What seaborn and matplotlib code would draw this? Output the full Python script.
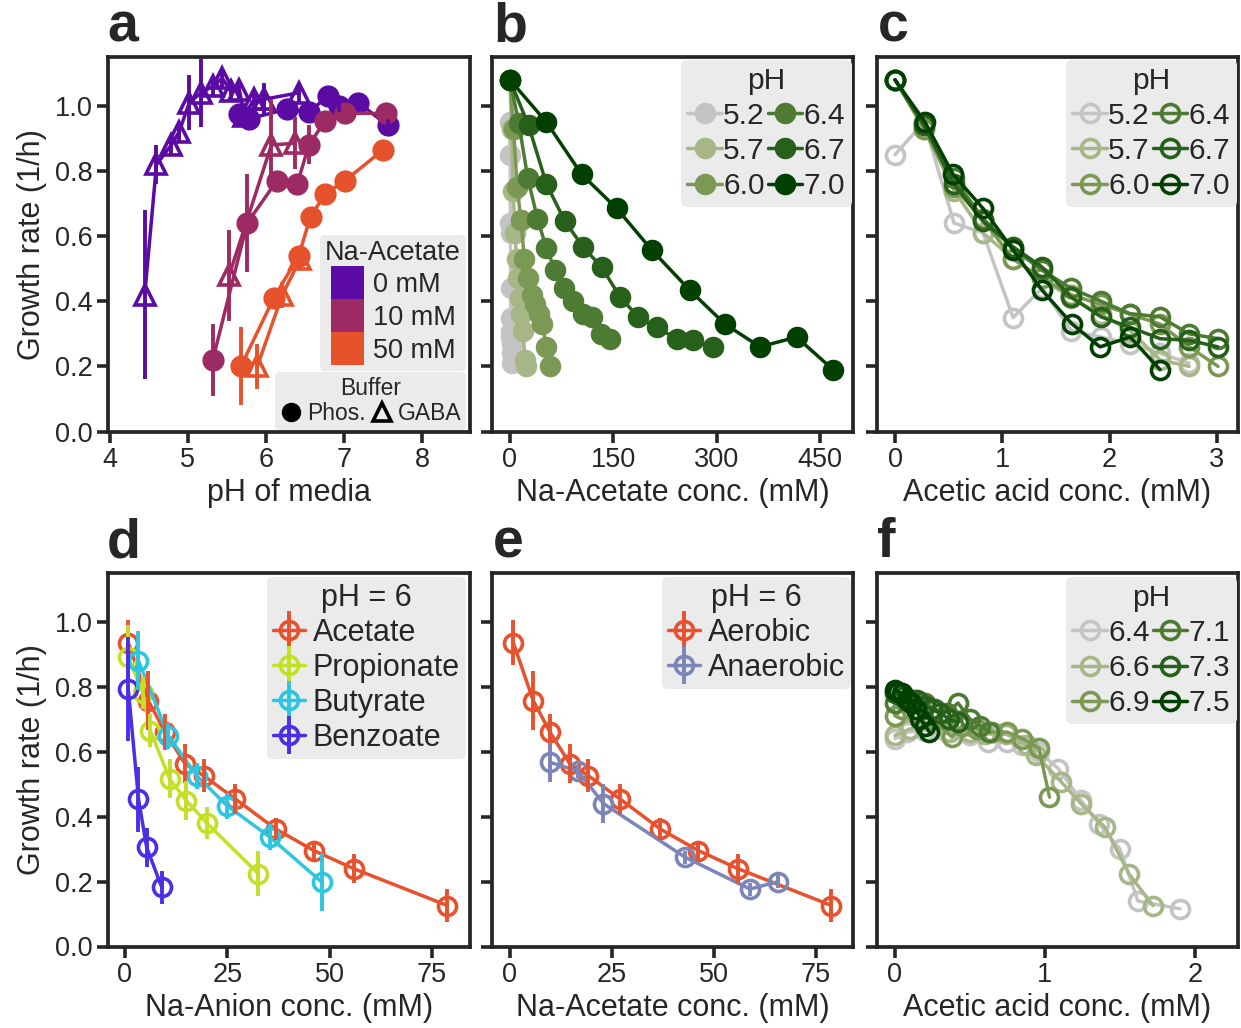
import numpy as np
import pandas as pd
import matplotlib
matplotlib.use('Agg')
import matplotlib.pyplot as plt
import seaborn as sns
from matplotlib.lines import Line2D
from matplotlib.patches import Patch
from matplotlib.legend_handler import HandlerTuple

# ---------------- DATA ----------------
# Panel a: growth rate vs pH, Na-acetate 0/10/50 mM, phosphate (circles) / GABA (triangles)
a_labels = ['0 mM', '10 mM', '50 mM']
a_colors = ['#5b0ba3', '#9d2b63', '#e6522c']
a0_phos_ph = [5.66, 5.78, 6.27, 6.55, 6.79, 6.93, 7.18, 7.56]
a0_phos_rate = [0.975, 0.96, 0.99, 0.98, 1.03, 1.00, 1.01, 0.94]
a0_phos_err = [0.02, 0.02, 0.02, 0.02, 0.02, 0.02, 0.02, 0.02]
a0_gaba_ph = [4.45, 4.60, 4.79, 4.89, 5.02, 5.17, 5.32, 5.44, 5.55, 5.66, 5.72, 5.85, 5.97, 6.42]
a0_gaba_rate = [0.42, 0.82, 0.88, 0.92, 1.01, 1.04, 1.06, 1.085, 1.045, 1.05, 0.97, 1.02, 1.02, 1.04]
a0_gaba_err = [0.26, 0.06, 0.03, 0.03, 0.085, 0.105, 0.03, 0.03, 0.03, 0.03, 0.03, 0.03, 0.05, 0.03]
a10_phos_ph = [5.32, 5.76, 6.14, 6.40, 6.55, 6.76, 7.01, 7.54]
a10_phos_rate = [0.22, 0.64, 0.77, 0.76, 0.88, 0.955, 0.977, 0.977]
a10_phos_err = [0.11, 0.15, 0.02, 0.03, 0.06, 0.02, 0.02, 0.02]
a10_gaba_ph = [5.53, 6.07, 6.37]
a10_gaba_rate = [0.48, 0.88, 0.885]
a10_gaba_err = [0.14, 0.14, 0.08]
a50_phos_ph = [5.68, 6.10, 6.42, 6.57, 6.76, 7.01, 7.50]
a50_phos_rate = [0.20, 0.41, 0.54, 0.66, 0.73, 0.77, 0.865]
a50_phos_err = [0.12, 0.03, 0.03, 0.02, 0.02, 0.02, 0.02]
a50_gaba_ph = [5.89, 6.21, 6.44]
a50_gaba_rate = [0.20, 0.42, 0.53]
a50_gaba_err = [0.07, 0.04, 0.03]

# Panels b & c: by pH
bc_ph = ['5.2', '5.7', '6.0', '6.4', '6.7', '7.0']
bc_colors = ['#c4c4c4', '#a6b687', '#7b9855', '#4e7b33', '#27601a', '#024002']
b_x_52 = [0, 0.3, 0.6, 0.9, 1.2, 1.5, 1.8, 2.1, 2.4, 2.7, 3.0]
b_x_57 = [0, 2.4, 4.8, 7.2, 9.6, 12, 14.4, 16.8, 19.2, 21.6, 24]
b_x_60 = [0, 5.3, 10.5, 16, 21, 26, 32, 37, 42, 47, 53, 58]
b_x_64 = [0, 13, 26, 40, 53, 66, 79, 92, 106, 119, 132, 145]
b_x_67 = [0, 27, 53, 80, 106, 133, 160, 186, 213, 242, 266, 295]
b_x_70 = [0, 53, 104, 155, 206, 261, 312, 363, 416, 469]
c_x_52 = [0, 0.27, 0.55, 0.82, 1.10, 1.37, 1.64, 1.92, 2.19, 2.47, 2.74]
c_x_57 = [0, 0.27, 0.55, 0.82, 1.10, 1.37, 1.64, 1.92, 2.19, 2.47, 2.74]
c_x_60 = [0, 0.27, 0.55, 0.82, 1.10, 1.37, 1.64, 1.92, 2.19, 2.47, 2.74, 3.01]
c_x_64 = [0, 0.27, 0.55, 0.82, 1.10, 1.37, 1.64, 1.92, 2.19, 2.47, 2.74, 3.01]
c_x_67 = [0, 0.27, 0.55, 0.82, 1.10, 1.37, 1.64, 1.92, 2.19, 2.47, 2.74, 3.01]
c_x_70 = [0, 0.28, 0.54, 0.82, 1.10, 1.37, 1.65, 1.91, 2.19, 2.47]
rate_52 = [0.85, 0.95, 0.64, 0.61, 0.35, 0.44, 0.31, 0.29, 0.27, 0.24, 0.21]
rate_57 = [1.08, 0.93, 0.74, 0.61, 0.53, 0.47, 0.41, 0.36, 0.31, 0.22, 0.20]
rate_60 = [1.08, 0.93, 0.75, 0.65, 0.53, 0.47, 0.42, 0.39, 0.36, 0.33, 0.26, 0.20]
rate_64 = [1.08, 0.946, 0.777, 0.654, 0.562, 0.495, 0.44, 0.40, 0.362, 0.352, 0.30, 0.285]
rate_67 = [1.08, 0.94, 0.76, 0.645, 0.567, 0.505, 0.413, 0.352, 0.32, 0.285, 0.28, 0.26]
rate_70 = [1.08, 0.95, 0.79, 0.685, 0.557, 0.434, 0.33, 0.26, 0.29, 0.19]

# Panel d: different anions at pH 6
d_labels = ['Acetate', 'Propionate', 'Butyrate', 'Benzoate']
d_colors = ['#e8512d', '#c3df27', '#2dc5e0', '#4b2ee5']
acet_x = [0.8, 5.7, 9.8, 14.7, 19.2, 27, 36.8, 46.2, 56, 78.8]
acet_y = [0.936, 0.757, 0.66, 0.562, 0.526, 0.454, 0.362, 0.295, 0.239, 0.126]
acet_e = [0.07, 0.09, 0.055, 0.06, 0.05, 0.045, 0.035, 0.03, 0.045, 0.05]
prop_x = [0.8, 4.4, 6.2, 10.9, 15.0, 20.0, 32.6]
prop_y = [0.89, 0.78, 0.665, 0.516, 0.449, 0.38, 0.224]
prop_e = [0.1, 0.05, 0.05, 0.06, 0.06, 0.05, 0.07]
buty_x = [3.3, 10.6, 17.5, 24.9, 35.5, 48.1]
buty_y = [0.88, 0.649, 0.526, 0.434, 0.336, 0.198]
buty_e = [0.09, 0.04, 0.04, 0.04, 0.04, 0.09]
benz_x = [0.8, 3.3, 5.3, 9.0]
benz_y = [0.793, 0.454, 0.305, 0.182]
benz_e = [0.16, 0.10, 0.06, 0.05]

# Panel e: aerobic vs anaerobic
e_labels = ['Aerobic', 'Anaerobic']
e_colors = ['#e8512d', '#7b85b8']
anae_x = [9.8, 16.7, 22.9, 42.9, 58.8, 65.8]
anae_y = [0.567, 0.54, 0.44, 0.275, 0.177, 0.20]
anae_e = [0.06, 0.02, 0.06, 0.02, 0.02, 0.02]

# Panel f: acetic acid at higher pH
f_ph = ['6.4', '6.6', '6.9', '7.1', '7.3', '7.5']
f_colors = ['#c4c4c4', '#a6b687', '#7b9855', '#4e7b33', '#27601a', '#024002']
f_x_64 = [0, 0.08, 0.2, 0.35, 0.5, 0.62, 0.75, 0.85, 0.96, 1.09, 1.24, 1.36, 1.5, 1.62, 1.9]
f_y_64 = [0.64, 0.66, 0.665, 0.66, 0.65, 0.63, 0.63, 0.62, 0.60, 0.547, 0.45, 0.378, 0.30, 0.14, 0.116]
f_x_66 = [0, 0.1, 0.2, 0.37, 0.5, 0.6, 0.74, 0.88, 0.94, 1.11, 1.24, 1.4, 1.56, 1.72]
f_y_66 = [0.65, 0.67, 0.68, 0.66, 0.66, 0.655, 0.654, 0.62, 0.59, 0.506, 0.44, 0.367, 0.224, 0.126]
f_x_69 = [0, 0.05, 0.15, 0.25, 0.38, 0.45, 0.55, 0.65, 0.75, 0.85, 0.96, 1.03]
f_y_69 = [0.71, 0.73, 0.72, 0.70, 0.645, 0.68, 0.67, 0.66, 0.66, 0.64, 0.61, 0.46]
f_x_71 = [0, 0.06, 0.13, 0.2, 0.27, 0.35, 0.42, 0.5, 0.57, 0.63]
f_y_71 = [0.75, 0.77, 0.76, 0.75, 0.73, 0.72, 0.75, 0.70, 0.68, 0.66]
f_x_73 = [0, 0.05, 0.1, 0.15, 0.2, 0.25, 0.3, 0.36, 0.42]
f_y_73 = [0.78, 0.77, 0.76, 0.76, 0.74, 0.73, 0.72, 0.70, 0.69]
f_x_75 = [0, 0.02, 0.05, 0.08, 0.11, 0.14, 0.17, 0.2, 0.23]
f_y_75 = [0.79, 0.785, 0.78, 0.76, 0.75, 0.73, 0.70, 0.68, 0.66]

# ---------------- STYLE ----------------
sns.set_theme(style='ticks')
plt.rcParams['font.family'] = ['Liberation Sans', 'DejaVu Sans']
TXT = '#262626'
plt.rcParams['text.color'] = TXT
plt.rcParams['axes.labelcolor'] = TXT

W, H = 1241, 1028
fig = plt.figure(figsize=(W / 100, H / 100), dpi=100)

LABFS = 22
TICKFS = 19.5
LEGFS = 21.5


def add_ax(l, t, r, b):
    return fig.add_axes([l / W, 1 - b / H, (r - l) / W, (b - t) / H])


def style_ax(ax, show_ylab):
    for sp in ax.spines.values():
        sp.set_linewidth(2.7)
        sp.set_color(TXT)
    ax.tick_params(length=8, width=2.6, color=TXT, labelsize=TICKFS, pad=3, labelcolor=TXT)
    ax.set_ylim(0, 1.15)
    ax.set_yticks([0, 0.2, 0.4, 0.6, 0.8, 1.0])
    if show_ylab:
        ax.set_yticklabels(['0.0', '0.2', '0.4', '0.6', '0.8', '1.0'])
        ax.set_ylabel('Growth rate (1/h)', fontsize=LABFS, labelpad=6)
    else:
        ax.set_yticklabels([])
        ax.set_ylabel('')


def style_leg(leg):
    fr = leg.get_frame()
    fr.set_facecolor('#EBEBEB')
    fr.set_edgecolor('none')
    fr.set_alpha(1)


LW = 2.5


def line_filled(ax, x, y, c, ms=15.5, marker='o'):
    sns.lineplot(x=x, y=y, ax=ax, color=c, marker=marker, markersize=ms, linewidth=LW,
                 sort=False, estimator=None, errorbar=None, legend=False,
                 markeredgecolor=c, markeredgewidth=0, markerfacecolor=c)


def line_open(ax, x, y, c, ms=13, marker='o'):
    sns.lineplot(x=x, y=y, ax=ax, color=c, marker=marker, markersize=ms, linewidth=LW,
                 sort=False, estimator=None, errorbar=None, legend=False,
                 markeredgecolor=c, markeredgewidth=2.6, markerfacecolor='none')


def ebar(ax, x, y, e, c):
    ax.errorbar(x, y, yerr=e, fmt='none', ecolor=c, elinewidth=2.8, capsize=0, zorder=3)


axA = add_ax(108, 57, 470, 431.5)
axB = add_ax(492, 57, 853, 431.5)
axC = add_ax(877, 57, 1238, 431.5)
axD = add_ax(108, 573, 470, 946.5)
axE = add_ax(492, 573, 853, 946.5)
axF = add_ax(877, 573, 1238, 946.5)

# ---- Panel a ----
a_sets = [
    (a0_phos_ph, a0_phos_rate, a0_phos_err, a0_gaba_ph, a0_gaba_rate, a0_gaba_err),
    (a10_phos_ph, a10_phos_rate, a10_phos_err, a10_gaba_ph, a10_gaba_rate, a10_gaba_err),
    (a50_phos_ph, a50_phos_rate, a50_phos_err, a50_gaba_ph, a50_gaba_rate, a50_gaba_err),
]
for (px, py, pe, gx, gy, ge), c in zip(a_sets, a_colors):
    ebar(axA, px, py, pe, c)
    ebar(axA, gx, gy, ge, c)
    line_open(axA, gx, gy, c, ms=15, marker='^')
    line_filled(axA, px, py, c, ms=16)
axA.set_xlim(3.98, 8.61)
axA.set_xticks([4, 5, 6, 7, 8])
axA.set_xlabel('pH of media', fontsize=LABFS)
style_ax(axA, True)

leg1 = axA.legend([Patch(facecolor=c, edgecolor='none') for c in a_colors], a_labels,
                  title='Na-Acetate', loc='lower right', bbox_to_anchor=(0.99, 0.162),
                  borderaxespad=0, fontsize=19.5, title_fontsize=19.5, handlelength=1.25,
                  handleheight=1.5, labelspacing=0, handletextpad=0.3, borderpad=0.2,
                  fancybox=True)
style_leg(leg1)
axA.add_artist(leg1)
buf_h = [Line2D([0], [0], marker='o', color='black', linestyle='none', markersize=13),
         Line2D([0], [0], marker='^', color='black', markerfacecolor='none',
                markeredgewidth=2.6, linestyle='none', markersize=13)]
leg2 = axA.legend(buf_h, ['Phos.', 'GABA'], title='Buffer', ncol=2, loc='lower right',
                  bbox_to_anchor=(0.99, 0.005), borderaxespad=0, fontsize=16.5,
                  title_fontsize=16.5, handlelength=1.0, handletextpad=0.2,
                  columnspacing=0.2, borderpad=0.2, labelspacing=0.1, fancybox=True)
style_leg(leg2)

# ---- Panel b and c ----
b_xs = [b_x_52, b_x_57, b_x_60, b_x_64, b_x_67, b_x_70]
c_xs = [c_x_52, c_x_57, c_x_60, c_x_64, c_x_67, c_x_70]
rates = [rate_52, rate_57, rate_60, rate_64, rate_67, rate_70]
for bx, cx, r, c in zip(b_xs, c_xs, rates, bc_colors):
    line_filled(axB, bx, r, c, ms=15.5)
    line_open(axC, cx, r, c, ms=13)

axB.set_xlim(-26, 498)
axB.set_xticks([0, 150, 300, 450])
axB.set_xlabel('Na-Acetate conc. (mM)', fontsize=LABFS)
style_ax(axB, False)
axC.set_xlim(-0.168, 3.196)
axC.set_xticks([0, 1, 2, 3])
axC.set_xlabel('Acetic acid conc. (mM)', fontsize=LABFS)
style_ax(axC, False)

leg_kw = dict(ncol=2, loc='upper right', borderaxespad=0, fontsize=LEGFS,
              title_fontsize=LEGFS, handlelength=1.15, handletextpad=0.05,
              columnspacing=0.1, labelspacing=0.24, borderpad=0.22, fancybox=True)
hb = [Line2D([0], [0], color=c, marker='o', markersize=15.5, lw=LW, markeredgewidth=0)
      for c in bc_colors]
legb = axB.legend(hb, bc_ph, title='pH', bbox_to_anchor=(0.997, 0.992), **leg_kw)
style_leg(legb)
hc = [Line2D([0], [0], color=c, marker='o', markersize=13, lw=LW, markeredgewidth=2.6,
             markerfacecolor='none') for c in bc_colors]
legc = axC.legend(hc, bc_ph, title='pH', bbox_to_anchor=(0.997, 0.992), **leg_kw)
style_leg(legc)

# ---- Panel d ----
d_sets = [(acet_x, acet_y, acet_e), (prop_x, prop_y, prop_e),
          (buty_x, buty_y, buty_e), (benz_x, benz_y, benz_e)]
for (x, y, e), c in zip(d_sets, d_colors):
    line_open(axD, x, y, c, ms=13)
    ebar(axD, x, y, e, c)
axD.set_xlim(-4.15, 84.3)
axD.set_xticks([0, 25, 50, 75])
axD.set_xlabel('Na-Anion conc. (mM)', fontsize=LABFS)
style_ax(axD, True)


def eb_handle(c):
    return (Line2D([0], [0], color=c, marker='o', markersize=13, lw=LW,
                   markeredgewidth=2.6, markerfacecolor='none'),
            Line2D([0], [0], color=c, marker='|', markersize=27, markeredgewidth=2.8,
                   linestyle='none'))


eb_kw = dict(loc='upper right', borderaxespad=0, fontsize=22, title_fontsize=22,
             handlelength=1.05, handletextpad=0.25, labelspacing=0.16, borderpad=0.2,
             fancybox=True, handler_map={tuple: HandlerTuple(ndivide=1, pad=0)})
legd = axD.legend([eb_handle(c) for c in d_colors], d_labels, title='pH = 6',
                  bbox_to_anchor=(0.989, 0.989), **eb_kw)
style_leg(legd)

# ---- Panel e ----
e_sets = [(acet_x, acet_y, acet_e), (anae_x, anae_y, anae_e)]
for (x, y, e), c in zip(e_sets, e_colors):
    line_open(axE, x, y, c, ms=13)
    ebar(axE, x, y, e, c)
axE.set_xlim(-4.41, 84.07)
axE.set_xticks([0, 25, 50, 75])
axE.set_xlabel('Na-Acetate conc. (mM)', fontsize=LABFS)
style_ax(axE, False)
lege = axE.legend([eb_handle(c) for c in e_colors], e_labels, title='pH = 6',
                  bbox_to_anchor=(0.994, 0.989), **eb_kw)
style_leg(lege)

# ---- Panel f ----
f_sets = [(f_x_64, f_y_64), (f_x_66, f_y_66), (f_x_69, f_y_69),
          (f_x_71, f_y_71), (f_x_73, f_y_73), (f_x_75, f_y_75)]
for (x, y), c in zip(f_sets, f_colors):
    line_open(axF, x, y, c, ms=13)
axF.set_xlim(-0.12, 2.287)
axF.set_xticks([0, 1, 2])
axF.set_xlabel('Acetic acid conc. (mM)', fontsize=LABFS)
style_ax(axF, False)
hf = [Line2D([0], [0], color=c, marker='o', markersize=13, lw=LW, markeredgewidth=2.6,
             markerfacecolor='none') for c in f_colors]
legf = axF.legend(hf, f_ph, title='pH', bbox_to_anchor=(0.997, 0.989), **leg_kw)
style_leg(legf)

# ---- panel letters ----
for lab, xpx, ypx in [('a', 107, 27), ('b', 493, 27), ('c', 878, 27),
                      ('d', 107, 543), ('e', 493, 543), ('f', 877, 543)]:
    fig.text(xpx / W, 1 - ypx / H, lab, fontsize=40, fontweight='bold', ha='left',
             va='center', color=TXT)

fig.savefig('out.png', dpi=100)
